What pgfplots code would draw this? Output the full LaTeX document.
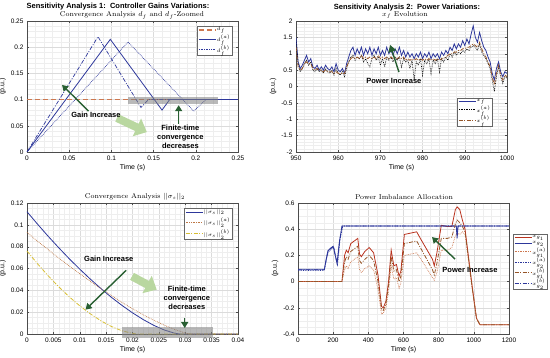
\documentclass[border=0pt]{standalone}
\usepackage{pgfplots}
\pgfplotsset{compat=1.18}
\usepackage{pgfplotstable}
\usepackage{fontspec}
\setsansfont{Liberation Sans}
\usetikzlibrary{arrows.meta}

\definecolor{mblue}{RGB}{45,55,155}
\definecolor{mred}{RGB}{185,50,30}
\definecolor{mbrown}{RGB}{150,85,40}
\definecolor{morange}{RGB}{205,120,80}
\definecolor{mdot}{RGB}{190,120,70}
\definecolor{myellow}{RGB}{215,190,50}
\definecolor{dgreen}{RGB}{40,95,50}
\definecolor{lgreen}{RGB}{185,215,160}

\pgfplotstableread{
x b a c
950 1.50 1.40 1.20
950.5 0.75 0.70 0.60
951 0.55 0.45 0.50
951.5 0.65 0.55 0.55
952 0.80 0.70 0.70
952.5 0.95 0.80 0.75
953 0.75 0.65 0.70
953.5 0.85 0.75 0.70
954 0.60 0.50 0.55
954.5 0.55 0.45 0.50
955 0.65 0.55 0.55
955.5 0.50 0.45 0.50
956 0.60 0.50 0.50
956.5 0.50 0.40 0.45
957 0.65 0.55 0.50
957.5 0.55 0.45 0.45
958 0.50 0.40 0.45
958.5 0.60 0.50 0.45
959 0.45 0.35 0.40
959.5 0.70 0.55 0.45
960 0.50 0.40 0.40
960.5 0.45 0.35 0.40
961 0.55 0.45 0.40
961.5 0.40 0.30 0.40
962 0.70 0.55 0.60
962.5 0.90 0.75 0.75
963 1.10 0.90 0.85
963.5 1.20 0.95 0.90
964 0.95 0.80 0.85
964.5 1.15 0.90 0.90
965 1.00 0.85 0.85
965.5 1.20 0.95 0.95
966 0.95 0.75 0.85
966.5 1.15 0.85 0.90
967 1.00 0.70 0.85
967.5 1.20 0.60 0.90
968 0.95 0.85 0.85
968.5 1.15 0.95 0.90
969 1.00 0.80 0.85
969.5 1.20 0.90 0.95
970 0.95 0.65 0.85
970.5 1.10 0.85 0.90
971 0.95 0.60 0.85
971.5 1.20 0.90 0.90
972 1.00 0.80 0.85
972.5 1.10 0.90 0.90
973 0.95 0.75 0.85
973.5 1.15 0.90 0.90
974 1.00 0.80 0.85
974.5 1.20 0.90 0.90
975 0.95 0.60 0.85
975.5 1.10 0.85 0.90
976 0.90 0.75 0.80
976.5 1.05 0.80 0.85
977 0.90 0.55 0.80
977.5 1.00 0.80 0.85
978 0.85 0.20 0.80
978.5 1.00 0.75 0.85
979 0.90 0.65 0.80
979.5 1.05 0.85 0.85
980 0.85 0.35 0.80
980.5 1.00 0.80 0.85
981 0.90 0.70 0.80
981.5 1.05 0.85 0.85
982 0.85 0.40 0.80
982.5 1.00 0.80 0.85
983 0.90 0.70 0.80
983.5 1.00 0.85 0.85
984 0.85 0.45 0.80
984.5 1.05 0.85 0.85
985 0.95 0.75 0.85
985.5 1.10 0.90 0.90
986 1.00 0.80 0.95
986.5 1.20 1.00 1.00
987 1.10 0.90 1.00
987.5 1.30 1.05 1.05
988 1.15 0.95 1.05
988.5 1.30 1.05 1.10
989 1.20 1.00 1.10
989.5 1.40 1.10 1.15
990 1.25 1.05 1.15
990.5 1.45 1.15 1.20
991 1.30 1.10 1.20
991.5 1.60 1.20 1.25
992 1.85 1.25 1.30
992.5 1.50 1.20 1.25
993 1.35 1.10 1.20
993.5 1.65 1.30 1.35
994 1.40 1.05 1.15
994.5 1.20 0.95 1.00
995 1.10 0.85 0.90
995.5 0.90 0.70 0.75
996 0.75 0.55 0.60
996.5 0.40 0.20 0.30
997 0.20 -0.15 0.05
997.5 0.55 0.30 0.40
998 0.75 0.60 0.65
998.5 0.45 0.30 0.35
999 0.30 0.10 0.20
999.5 0.45 0.30 0.35
1000 0.40 0.25 0.30
}\xftable

\pgfplotstableread{
x r b a
0 0 0 0
250 0 0 0
265 0.20 0.15 0.09
275 0.24 0.19 0.12
285 0.22 0.17 0.10
300 0.29 0.23 0.15
330 0.32 0.26 0.18
340 0.33 0.27 0.19
350 0.21 0.16 0.09
360 0.19 0.14 0.07
380 0.23 0.17 0.10
405 0.26 0.20 0.12
430 0.22 0.16 0.09
455 0.05 0.00 -0.06
475 -0.19 -0.21 -0.25
485 -0.20 -0.22 -0.24
500 -0.15 -0.17 -0.20
515 0.00 -0.03 -0.08
530 0.24 0.19 0.12
545 0.12 0.08 0.02
560 0.13 0.09 0.03
575 0.04 0.00 -0.05
585 0.08 0.04 -0.01
605 0.36 0.29 0.20
640 0.37 0.30 0.21
675 0.38 0.31 0.22
700 0.32 0.25 0.17
765 0.17 0.09 0.03
775 0.12 0.05 0.01
790 0.22 0.14 0.07
815 0.43 0.33 0.24
850 0.42 0.33 0.24
875 0.42 0.34 0.26
895 0.55 0.44 0.35
905 0.57 0.47 0.37
920 0.55 0.45 0.36
935 0.47 0.42 0.38
950 0.40 0.38 0.36
990 -0.03 -0.04 -0.05
1015 -0.28 -0.28 -0.28
1035 -0.33 -0.33 -0.33
1200 -0.33 -0.33 -0.33
}\xgtable

\tikzset{
  txt/.style={font=\sffamily\bfseries\fontsize{7.5}{9}\selectfont, align=center, inner sep=0pt},
  garrow/.style={dgreen, line width=1.4pt, -{Triangle[length=6pt,width=7pt]}},
  larrow/.style={lgreen, line width=8pt, -{Triangle[length=11pt,width=19pt]}},
}
\pgfplotsset{
  myax/.style={
    scale only axis, width=211pt, height=131pt,
    grid=both,
    major grid style={gray!28, line width=0.3pt},
    minor grid style={gray!13, line width=0.25pt},
    tick align=inside,
    axis line style={black!70, line width=0.4pt},
    major tick length=2pt, minor tick length=0pt,
    tick style={black!70, line width=0.3pt},
    /pgf/number format/assume math mode=true,
    /pgf/number format/set thousands separator={},
    tick label style={font=\sffamily\fontsize{6.5}{7}\selectfont},
    label style={font=\sffamily\fontsize{7}{8}\selectfont},
    xlabel={Time (s)}, ylabel={(p.u.)},
    xlabel style={yshift=3pt},
    ylabel style={yshift=-2pt},
    scaled ticks=false,
    legend cell align=left,
    legend style={font=\fontsize{5}{6}\selectfont, inner sep=1pt, row sep=1.5pt, draw=black!60, line width=0.3pt,
      nodes={inner sep=0.4pt}},
    legend image code/.code={\draw[##1] (0pt,0pt) -- (17pt,0pt);},
  },
}

\begin{document}
\begin{tikzpicture}
\useasboundingbox (0pt,0pt) rectangle (550pt,358pt);

% ---------- Panel 1 ----------
\begin{axis}[myax, at={(27pt,206pt)}, anchor=south west,
  xmin=0, xmax=0.25, ymin=0, ymax=0.25,
  xtick={0,0.05,...,0.25}, ytick={0,0.05,...,0.25},
  minor x tick num=4, minor y tick num=4,
  xticklabels={0,0.05,0.1,0.15,0.2,0.25},
  yticklabels={0,0.05,0.1,0.15,0.2,0.25},
  legend style={at={(rel axis cs:0.9716,0.962)}, anchor=north east}]
\addplot[morange, line width=1.2pt, dash pattern=on 5pt off 3pt] coordinates {(0,0.1) (0.25,0.1)};
\addlegendentry{$d_f$}
\addplot[mblue, line width=0.8pt] coordinates {(0,0) (0.0987,0.215) (0.160,0.080) (0.169,0.1) (0.25,0.1)};
\addlegendentry{$d_f^{(a)}$}
\addplot[mblue, line width=0.7pt, densely dotted] coordinates {(0,0) (0.1197,0.21) (0.1975,0.078) (0.212,0.1) (0.25,0.1)};
\addlegendentry{$d_f^{(b)}$}
\addplot[mblue, line width=0.7pt, dash pattern=on 4pt off 1.5pt on 1pt off 1.5pt, forget plot] coordinates {(0,0) (0.0841,0.22) (0.135,0.085) (0.144,0.1) (0.25,0.1)};
\fill[gray, opacity=0.55] (axis cs:0.1197,0.0912) rectangle (axis cs:0.2263,0.105);
\draw[larrow] (axis cs:0.1066,0.0649) -- (axis cs:0.142,0.038);
\draw[garrow] (axis cs:0.073,0.078) -- (axis cs:0.0415,0.128);
\node[txt] at (axis cs:0.0817,0.070) {Gain Increase};
\draw[garrow] (axis cs:0.1797,0.0542) -- (axis cs:0.1797,0.0893);
\node[txt] at (axis cs:0.1817,0.0287) {Finite-time\\convergence\\decreases};
\end{axis}

% ---------- Panel 2 ----------
\begin{axis}[myax, at={(296pt,206pt)}, anchor=south west,
  xmin=950, xmax=1000, ymin=-2, ymax=2,
  xtick={950,960,...,1000}, ytick={-2,-1.5,...,2},
  yticklabels={-2,-1.5,-1,-0.5,0,0.5,1,1.5,2},
  minor x tick num=4, minor y tick num=4,
  legend style={at={(rel axis cs:0.929,0.412)}, anchor=north east}]
\addplot[mblue, line width=0.8pt] table[x=x, y=b] {\xftable};
\addlegendentry{$x_f$}
\addplot[black, line width=0.7pt, densely dotted] table[x=x, y=a] {\xftable};
\addlegendentry{$x_f^{(a)}$}
\addplot[mbrown, line width=0.8pt, dash pattern=on 4pt off 1.5pt on 1pt off 1.5pt] table[x=x, y=c] {\xftable};
\addlegendentry{$x_f^{(b)}$}
\draw[dgreen, line width=1.4pt, -{Triangle[length=7pt,width=8pt]}] (axis cs:974.4,0.44) -- (axis cs:972.3,1.27);
\node[txt] at (axis cs:973.2,0.17) {Power Increase};
\node[anchor=south west, inner sep=1pt, font=\sffamily\fontsize{5.5}{6}\selectfont] at (rel axis cs:0,1) {$\times10^{-3}$};
\end{axis}

% ---------- Panel 3 ----------
\begin{axis}[myax, at={(27pt,24pt)}, anchor=south west, clip=false,
  xmin=0, xmax=0.04, ymin=0, ymax=0.12,
  xtick={0,0.005,...,0.04}, ytick={0,0.02,...,0.12},
  xticklabels={0,0.005,0.01,0.015,0.02,0.025,0.03,0.035,0.04},
  yticklabels={0,0.02,0.04,0.06,0.08,0.1,0.12},
  minor x tick num=4, minor y tick num=3,
  legend style={at={(rel axis cs:0.9716,0.962)}, anchor=north east, row sep=2.5pt}]
\addplot[mblue, line width=0.8pt] coordinates {(0,0.112) (0.002,0.1006) (0.004,0.0896) (0.006,0.0791) (0.008,0.0690) (0.010,0.0594) (0.012,0.0503) (0.014,0.0417) (0.016,0.0336) (0.018,0.0262) (0.020,0.0194) (0.022,0.0133) (0.024,0.0080) (0.026,0.0037) (0.028,0.0007) (0.029,0) (0.04,0)};
\addlegendentry{$||\sigma_s||_2$}
\addplot[mdot, line width=0.7pt, densely dotted] coordinates {(0,0.093) (0.002,0.0850) (0.004,0.0773) (0.006,0.0697) (0.008,0.0623) (0.010,0.0552) (0.012,0.0483) (0.014,0.0416) (0.016,0.0352) (0.018,0.0290) (0.020,0.0232) (0.022,0.0177) (0.024,0.0127) (0.026,0.0081) (0.028,0.0041) (0.030,0.0009) (0.031,0) (0.04,0)};
\addlegendentry{$||\sigma_s||_2^{(a)}$}
\addplot[myellow, line width=0.8pt, dash pattern=on 4pt off 1.5pt on 1pt off 1.5pt] coordinates {(0,0.076) (0.002,0.0643) (0.004,0.0534) (0.006,0.0433) (0.008,0.0341) (0.010,0.0258) (0.012,0.0185) (0.014,0.0121) (0.016,0.0069) (0.018,0.0029) (0.020,0.0005) (0.021,0) (0.04,0)};
\addlegendentry{$||\sigma_s||_2^{(b)}$}
\fill[gray, opacity=0.55] (axis cs:0.018,-0.0037) rectangle (axis cs:0.0352,0.0061);
\draw[larrow] (axis cs:0.0199,0.0528) -- (axis cs:0.0246,0.0406);
\draw[garrow] (axis cs:0.0188,0.0583) -- (axis cs:0.0111,0.0223);
\node[txt] at (axis cs:0.0155,0.0687) {Gain Increase};
\draw[garrow] (axis cs:0.0299,0.0147) -- (axis cs:0.0299,0.0055);
\node[txt] at (axis cs:0.0303,0.033) {Finite-time\\convergence\\decreases};
\end{axis}

% ---------- Panel 4 ----------
\begin{axis}[myax, at={(298pt,24pt)}, anchor=south west,
  xmin=0, xmax=1200, ymin=-0.4, ymax=0.6,
  xtick={0,200,...,1200}, ytick={-0.4,-0.2,...,0.6},
  yticklabels={-0.4,-0.2,0,0.2,0.4,0.6},
  minor x tick num=3, minor y tick num=3,
  legend style={at={(rel axis cs:1.019,0.763)}, anchor=north west}]
\addplot[mred, line width=0.8pt] table[x=x, y=r] {\xgtable};
\addlegendentry{$x_{g_1}$}
\addplot[mblue, line width=0.8pt] coordinates {(0,0.095) (150,0.095) (160,0.17) (170,0.235) (185,0.255) (200,0.27) (210,0.21) (222,0.14) (235,0.30) (250,0.424) (900,0.424) (905,0.33) (910,0.424) (1200,0.424)};
\addlegendentry{$x_{g_2}$}
\addplot[morange, line width=0.7pt, densely dotted] table[x=x, y=a] {\xgtable};
\addlegendentry{$x_{g_1}^{(a)}$}
\addplot[mblue, line width=0.7pt, densely dotted] coordinates {(0,0.085) (150,0.085) (162,0.17) (172,0.225) (190,0.25) (205,0.26) (215,0.19) (225,0.13) (240,0.33) (255,0.424) (900,0.424) (905,0.36) (910,0.424) (1200,0.424)};
\addlegendentry{$x_{g_2}^{(a)}$}
\addplot[mbrown, line width=0.8pt, dash pattern=on 4pt off 1.5pt on 1pt off 1.5pt] table[x=x, y=b] {\xgtable};
\addlegendentry{$x_{g_1}^{(b)}$}
\addplot[mblue, line width=0.8pt, dash pattern=on 4pt off 1.5pt on 1pt off 1.5pt] coordinates {(0,0.09) (150,0.09) (161,0.17) (171,0.23) (188,0.255) (202,0.265) (212,0.2) (223,0.135) (238,0.32) (252,0.424) (900,0.424) (905,0.35) (910,0.424) (1200,0.424)};
\addlegendentry{$x_{g_2}^{(b)}$}
\draw[garrow] (axis cs:893,0.172) -- (axis cs:762,0.34);
\node[txt] at (axis cs:978,0.088) {Power Increase};
\end{axis}

% ---------- Titles ----------
\node[font=\sffamily\bfseries\fontsize{7.5}{9}\selectfont, inner sep=0pt] at (118pt,351pt) {Sensitivity Analysis 1:\ \ Controller Gains Variations:};
\node[font=\fontsize{7}{8}\selectfont, inner sep=0pt] at (132pt,342.5pt) {Convergence Analysis $d_f$ and $d_f$-Zoomed};
\node[font=\sffamily\bfseries\fontsize{7.5}{9}\selectfont, inner sep=0pt] at (407pt,350pt) {Sensitivity Analysis 2:\ \ Power Variations:};
\node[font=\fontsize{7}{8}\selectfont, inner sep=0pt] at (405pt,342.5pt) {$x_f$ Evolution};
\node[font=\fontsize{7}{8}\selectfont, inner sep=0pt] at (135pt,161pt) {Convergence Analysis $||\sigma_s||_2$};
\node[font=\fontsize{7}{8}\selectfont, inner sep=0pt] at (404pt,161pt) {Power Imbalance Allocation};
\end{tikzpicture}
\end{document}
